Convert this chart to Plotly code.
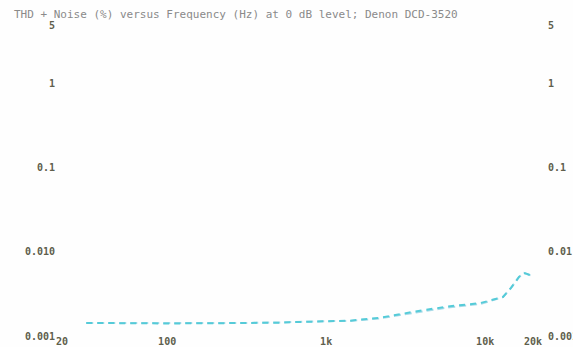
import plotly.graph_objects as go

freq = [31, 50, 100, 200, 332, 500, 685, 1000, 1413, 2182, 2917, 3890, 6010, 9290, 12950, 14550, 16330, 17550, 18340, 19720]
thd_a = [0.00143, 0.00143, 0.00142, 0.00142, 0.00143, 0.00145, 0.00148, 0.00150, 0.00151, 0.00162, 0.00178, 0.00195, 0.00220, 0.00240, 0.00291, 0.00373, 0.00504, 0.00562, 0.00548, 0.00518]
thd_b = [0.00143, 0.00142, 0.00141, 0.00142, 0.00142, 0.00144, 0.00147, 0.00149, 0.00152, 0.00165, 0.00182, 0.00200, 0.00226, 0.00246, 0.00291, 0.00373, 0.00504, 0.00562, 0.00548, 0.00518]

x_tickvals = [20, 100, 1000, 10000, 20000]
x_ticktext = ["\u00a0\u00a020", "100", "1k", "10k", "20k"]
y_tickvals = [0.001, 0.01, 0.1, 1, 5]
y_ticktext_left = ["0.001", "0.010", "0.1", "1", "5"]
y_ticktext_right = ["0.001", "0.01", "0.1", "1", "5"]

title_text = "THD + Noise (%) versus Frequency (Hz) at 0 dB level; Denon DCD-3520"

tick_font = dict(family="DejaVu Sans Mono", size=10, color="#5f5f4c", weight="bold")

fig = go.Figure()
fig.add_trace(go.Scatter(x=freq, y=thd_a, mode="lines", yaxis="y",
                         line=dict(color="#a9dbe8", width=2, dash="7px,4px"), showlegend=False))
fig.add_trace(go.Scatter(x=freq, y=thd_b, mode="lines", yaxis="y2",
                         line=dict(color="#55cbd8", width=2, dash="6px,5px"), showlegend=False))

ymin, ymax = -3, 0.699
fig.update_layout(
    width=573, height=347,
    margin=dict(l=56, r=40, t=25, b=11, autoexpand=False),
    paper_bgcolor="#fefefe", plot_bgcolor="#fefefe",
    title=dict(text=title_text, x=14/573, xanchor="left", xref="container",
               y=1-14/347, yanchor="middle", yref="container", pad=dict(t=0, b=0, l=0, r=0),
               font=dict(family="DejaVu Sans Mono", size=11, color="#8a8a8a")),
    xaxis=dict(type="log", range=[1.30103, 4.30103], tickvals=x_tickvals, ticktext=x_ticktext,
               showgrid=False, zeroline=False, showline=False, ticks="", automargin=False,
               ticklabelstandoff=-2, tickfont=tick_font),
    yaxis=dict(type="log", range=[ymin, ymax], tickvals=y_tickvals, ticktext=y_ticktext_left,
               showgrid=False, zeroline=False, showline=False, ticks="",
               automargin=False, tickfont=tick_font),
    yaxis2=dict(type="log", range=[ymin, ymax], tickvals=y_tickvals, ticktext=y_ticktext_right,
                overlaying="y", side="right", showgrid=False, zeroline=False, showline=False,
                automargin=False, ticks="outside", ticklen=12, tickcolor="rgba(0,0,0,0)",
                tickfont=tick_font),
)

fig.write_html("out.html", config={"displayModeBar": False},
               post_script="document.body.style.margin='0px';document.body.style.overflow='hidden';")
